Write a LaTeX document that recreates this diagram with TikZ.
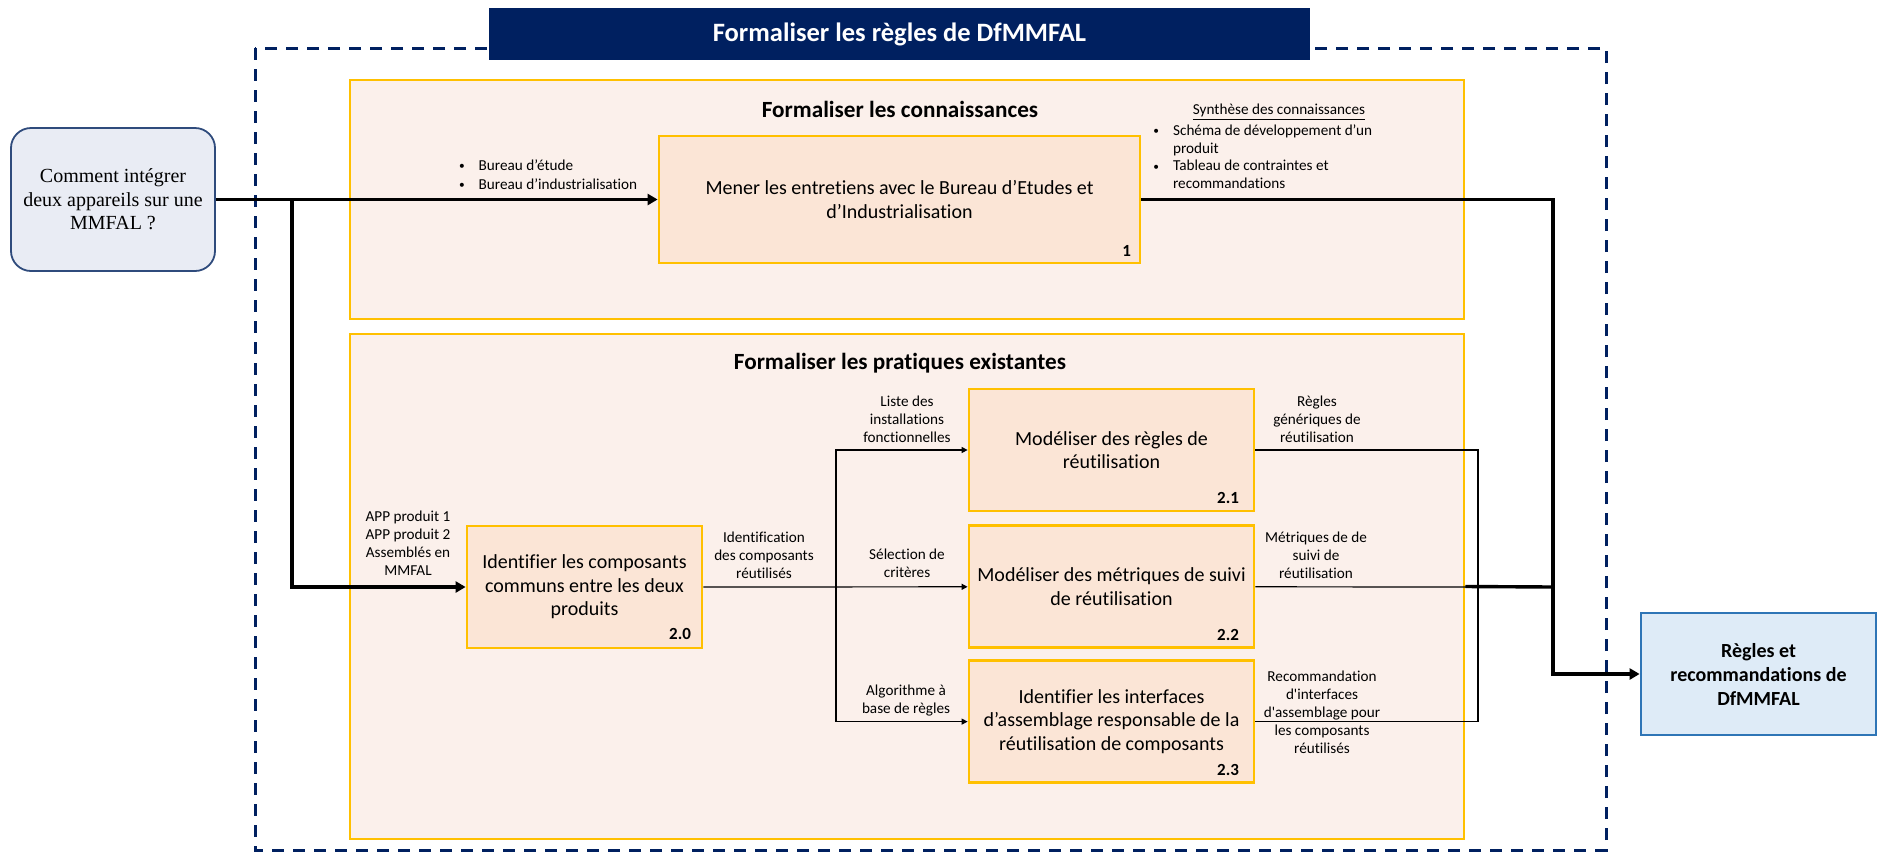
\documentclass[tikz,border=0pt]{standalone}
\usepackage{fontspec}
\setmainfont{Carlito}[Ligatures={TeX,NoCommon}]
\newfontfamily\serifask{Liberation Serif}
\usetikzlibrary{positioning,arrows.meta}
\definecolor{navy}{HTML}{002060}
\definecolor{gold}{HTML}{FFC000}
\definecolor{actfill}{HTML}{FBE5D6}
\definecolor{phasefill}{HTML}{FBF0EB}
\definecolor{askfill}{HTML}{E9ECF4}
\definecolor{askline}{HTML}{2F4B7C}
\definecolor{resfill}{HTML}{DEEBF7}
\definecolor{resline}{HTML}{2E75B6}
\newcommand{\bul}{\raisebox{0.1ex}{\scalebox{0.75}{•}}}

\begin{document}
\begin{tikzpicture}[x=0.5pt,y=-0.5pt,
	frame/.style={draw=navy, line width=1.5pt, dash pattern=on 6pt off 4.5pt},
	banner/.style={fill=navy, text=white, font=\fontsize{13.25}{16}\selectfont\bfseries, minimum width=410.5pt, minimum height=26pt, inner sep=0pt},
	phase/.style={draw=gold, line width=1.4pt, fill=phasefill, minimum width=557pt, inner sep=0pt},
	phasetitle/.style={font=\fontsize{11.6}{14}\selectfont\bfseries, inner sep=0pt},
	activity/.style={draw=gold, line width=1.4pt, fill=actfill, align=center, font=\fontsize{10}{11.75}\selectfont, minimum height=61pt, inner sep=0pt},
	lbl/.style={align=center, font=\fontsize{7.6}{9}\selectfont, inner sep=0pt},
	num/.style={font=\fontsize{8.5}{10}\selectfont\bfseries, inner sep=0pt},
	flow/.style={line width=1.7pt, -{Triangle[length=5pt,width=5.5pt]}},
	feed/.style={line width=0.6pt, -{Triangle[length=3pt,width=3pt]}},
	wire/.style={line width=0.6pt}]
	\useasboundingbox (0,0) rectangle (1878,852);
	\draw[frame] (255,48) rectangle (1606,850);
	\node[banner] (banner) at (899.5,34) {Formaliser les règles de DfMMFAL};
	
	\node[phase, minimum height=119.5pt] (know) at (907,199.5) {};
	\node[phase, minimum height=252.5pt] (prac) at (907,586.5) {};
	\node[phasetitle] (knowtitle) at (900,109) {Formaliser les connaissances};
	\node[phasetitle] (practitle) at (900,363) {Formaliser les pratiques existantes};
	
	\node[draw=askline, line width=0.9pt, fill=askfill, rounded corners=10pt, minimum width=102pt, minimum height=71.5pt, align=center, font=\serifask\fontsize{10}{11.75}\selectfont] (ask) at (113,199.5) {Comment intégrer\\deux appareils sur une\\MMFAL ?};
	
	\node[activity, minimum width=240.5pt, minimum height=63.5pt] (a1) at (899.5,199.5) {Mener les entretiens avec le Bureau d’Etudes et\\d’Industrialisation};
	\node[activity, minimum width=117.5pt] (a20) at (584.5,587) {Identifier les composants\\communs entre les deux\\produits};
	\node[activity, minimum width=142.5pt] (a21) at (1111.5,450) {Modéliser des règles de\\réutilisation};
	\node[activity, minimum width=142.5pt, below=6pt of a21] (a22) {Modéliser des métriques de suivi\\de réutilisation};
	\node[activity, minimum width=142.5pt, below=5pt of a22] (a23) {Identifier les interfaces\\d’assemblage responsable de la\\réutilisation de composants};
	\node[draw=resline, line width=1.4pt, fill=resfill, minimum width=117.5pt, minimum height=61pt, align=center, font=\fontsize{10}{12}\selectfont\bfseries] (res) at (1758.5,674) {Règles et\\recommandations de\\DfMMFAL};
	
	\node[num, above left=4pt and 5pt of a1.south east] (n1) {1};
	\node[num, above left=4.5pt and 6pt of a20.south east] (n20) {2.0};
	\node[num, above left=4pt and 8pt of a21.south east] (n21) {2.1};
	\node[num, above left=4pt and 8pt of a22.south east] (n22) {2.2};
	\node[num, above left=4pt and 8pt of a23.south east] (n23) {2.3};
	
	\coordinate (split) at (292,199.5);
	\coordinate (fork) at (836,587);
	\coordinate (gather) at (1478,587);
	\coordinate (merge) at (1553,587);
	\draw[flow] (ask.east) -- (a1.west);
	\draw[flow] (split) |- (a20.west);
	\draw[feed] (a20.east) -- (a22.west);
	\draw[feed] (fork) |- (a21.west);
	\draw[feed] (fork) |- (a23.west);
	\draw[wire] (a21.east) -| (gather) |- (a23.east);
	\draw[wire] (a22.east) -- (gather);
	\draw[line width=1.7pt] (prac.east) -- (merge);
	\draw[flow] (a1.east) -| (merge) |- (res.west);
	
	\node[lbl, font=\fontsize{7.6}{9.5}\selectfont, above left=2pt and 10pt of a1.west] (in1) {\begin{tabular}{@{}l@{\hspace{7pt}}l@{}}\bul&Bureau d’étude\\\bul&Bureau d’industrialisation\end{tabular}};
	\node[lbl] (syntitle) at (1279,112) {\underline{Synthèse des connaissances}};
	\node[lbl, font=\fontsize{7.6}{8.9}\selectfont, anchor=west] (synlist) at (1153,158.5) {\begin{tabular}{@{}l@{\hspace{7pt}}l@{}}\bul&Schéma de développement d’un\\&produit\\\bul&Tableau de contraintes et\\&recommandations\end{tabular}};
	\node[lbl] (in20) at (408,543) {APP produit 1\\APP produit 2\\Assemblés en\\MMFAL};
	\node[lbl] (out20) at (764,555.5) {Identification\\des composants\\réutilisés};
	\node[lbl] (in21) at (907,419) {Liste des\\installations\\fonctionnelles};
	\node[lbl] (in22) at (907,563.5) {Sélection de\\critères};
	\node[lbl] (in23) at (906,700.5) {Algorithme à\\base de règles};
	\node[lbl] (out21) at (1317,419) {Règles\\génériques de\\réutilisation};
	\node[lbl] (out22) at (1316,555.5) {Métriques de de\\suivi de\\réutilisation};
	\node[lbl] (out23) at (1322,712.5) {Recommandation\\d\textquotesingle interfaces\\d\textquotesingle assemblage pour\\les composants\\réutilisés};
\end{tikzpicture}
\end{document}
